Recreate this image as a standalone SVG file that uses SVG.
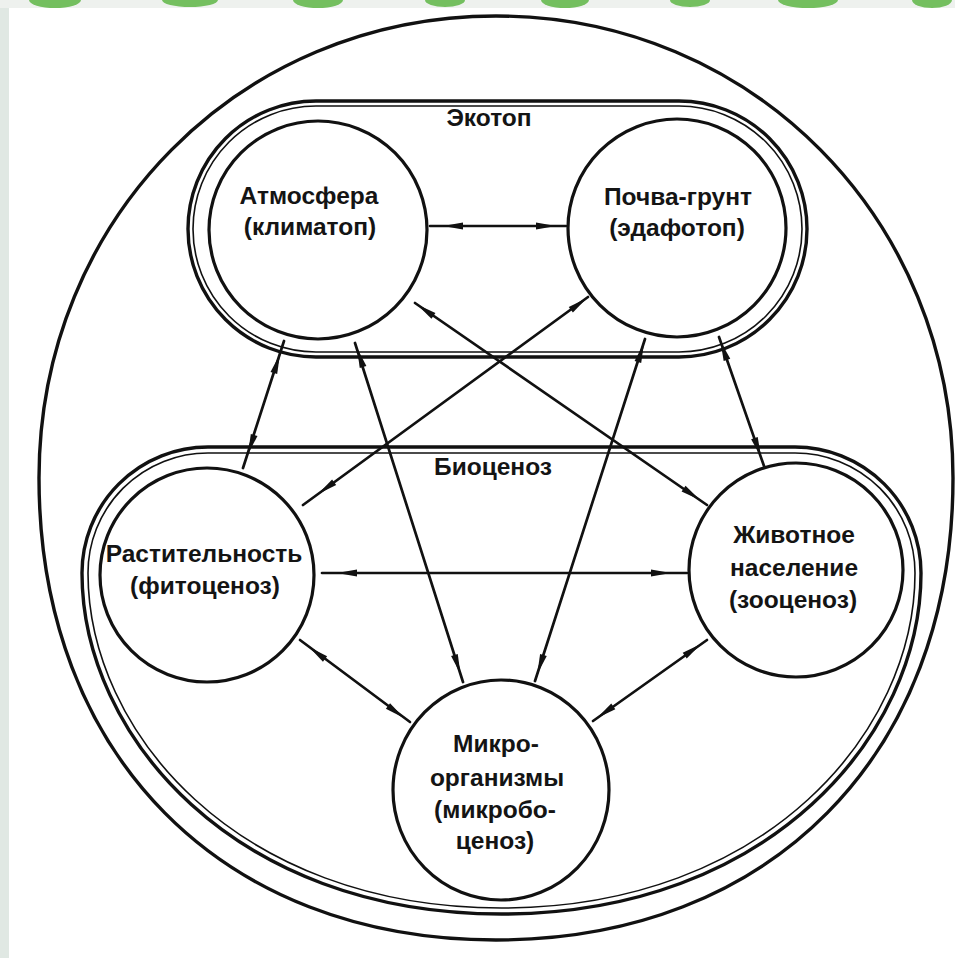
<svg xmlns="http://www.w3.org/2000/svg" xmlns:xlink="http://www.w3.org/1999/xlink" width="955" height="958" viewBox="0 0 955 958">
<style>
.frame{fill:none;stroke:#111;stroke-width:3.4}
.thin{fill:none;stroke:#111;stroke-width:1.6}
.node{fill:none;stroke:#111;stroke-width:3.2}
.lbl{font-family:"Liberation Sans",Arial,sans-serif;font-weight:bold;font-size:24.5px;fill:#141414;text-anchor:middle}
.con{stroke:#111;stroke-width:2.7;fill:none;stroke-linecap:round}
.ah{fill:#111}
</style>
<defs>
<path id="ah" d="M0,0 L-20,-3.5 L-20,3.5 Z"/>
</defs>
<rect x="0" y="0" width="955" height="958" fill="#ffffff"/>
<g id="slide-edge">
<rect x="0" y="0" width="9" height="958" fill="#e0e8e3"/>
<rect x="0" y="0" width="955" height="8" fill="#eef1ee"/>
<g fill="#74bf5f">
<ellipse cx="55" cy="0" rx="26" ry="8"/>
<ellipse cx="190" cy="0" rx="28" ry="7"/>
<ellipse cx="318" cy="0" rx="25" ry="8"/>
<ellipse cx="445" cy="0" rx="20" ry="7"/>
<ellipse cx="565" cy="0" rx="24" ry="8"/>
<ellipse cx="690" cy="0" rx="20" ry="7"/>
<ellipse cx="808" cy="0" rx="30" ry="8"/>
<ellipse cx="932" cy="0" rx="20" ry="8"/>
</g>
</g>
<g id="ecosystem">
<path class="frame" d="M953 478 C953 755 770 940 496 940 C222 940 39 755 39 478 C39 219 240 16 496 16 C752 16 953 219 953 478 Z"/>
</g>
<g id="ecotope">
<path class="frame" d="M316 101 L679 101 A128 128 0 0 1 679 357 L316 357 A128 128 0 0 1 316 101 Z"/>
<path class="thin" d="M316 106 L679 106 A123 123 0 0 1 679 352 L316 352 A123 123 0 0 1 316 106 Z"/>
<text class="lbl" x="489" y="126">Экотоп</text>
</g>
<g id="biocenosis">
<path class="frame" d="M208 447 L795 447 A126 126 0 0 1 921 573 C921 735 770 914 501.5 914 C233 914 82 735 82 573 A126 126 0 0 1 208 447 Z"/>
<path class="thin" d="M208 453 L795 453 A120 120 0 0 1 915 573 C915 731 767 908 501.5 908 C236 908 88 731 88 573 A120 120 0 0 1 208 453 Z"/>
<text class="lbl" x="493" y="475">Биоценоз</text>
</g>
<g id="atmosphere">
<circle class="node" cx="318" cy="230" r="109"/>
<text class="lbl" x="309" y="204">Атмосфера</text>
<text class="lbl" x="310" y="235">(климатоп)</text>
</g>
<g id="soil">
<circle class="node" cx="677" cy="228" r="109"/>
<text class="lbl" x="678" y="205">Почва-грунт</text>
<text class="lbl" x="677" y="236">(эдафотоп)</text>
</g>
<g id="vegetation">
<circle class="node" cx="207" cy="575" r="107"/>
<text class="lbl" x="204" y="562">Растительность</text>
<text class="lbl" x="205" y="594">(фитоценоз)</text>
</g>
<g id="animals">
<circle class="node" cx="796" cy="570" r="107"/>
<text class="lbl" x="794" y="543">Животное</text>
<text class="lbl" x="794" y="576">население</text>
<text class="lbl" x="793" y="608">(зооценоз)</text>
</g>
<g id="microorganisms">
<ellipse class="node" cx="501" cy="790" rx="108" ry="110"/>
<text class="lbl" x="496" y="752">Микро-</text>
<text class="lbl" x="497" y="786">организмы</text>
<text class="lbl" x="495" y="818">(микробо-</text>
<text class="lbl" x="495" y="849">ценоз)</text>
</g>
<g id="connectors">
<line class="con" x1="430" y1="226" x2="566" y2="226"/>
<line class="con" x1="284" y1="341" x2="243" y2="468"/>
<line class="con" x1="415" y1="303" x2="707" y2="505"/>
<line class="con" x1="588" y1="297" x2="303" y2="505"/>
<line class="con" x1="355" y1="343" x2="463" y2="682"/>
<line class="con" x1="645" y1="339" x2="535" y2="681"/>
<line class="con" x1="719" y1="337" x2="764" y2="466"/>
<line class="con" x1="322" y1="573" x2="687" y2="573"/>
<line class="con" x1="300" y1="640" x2="410" y2="722"/>
<line class="con" x1="707" y1="640" x2="593" y2="721"/>
<g class="ah">
<use xlink:href="#ah" transform="translate(443,226) rotate(180)"/>
<use xlink:href="#ah" transform="translate(556,226)"/>
<use xlink:href="#ah" transform="translate(280,354) rotate(-72.1)"/>
<use xlink:href="#ah" transform="translate(248,454) rotate(107.9)"/>
<use xlink:href="#ah" transform="translate(417,304.5) rotate(-145.3)"/>
<use xlink:href="#ah" transform="translate(700,500) rotate(34.7)"/>
<use xlink:href="#ah" transform="translate(587,298) rotate(-36.1)"/>
<use xlink:href="#ah" transform="translate(318,494) rotate(143.9)"/>
<use xlink:href="#ah" transform="translate(357,348) rotate(-107.7)"/>
<use xlink:href="#ah" transform="translate(460.5,674) rotate(72.3)"/>
<use xlink:href="#ah" transform="translate(644,343) rotate(-72.2)"/>
<use xlink:href="#ah" transform="translate(537.3,674) rotate(107.8)"/>
<use xlink:href="#ah" transform="translate(720.4,341) rotate(-109.2)"/>
<use xlink:href="#ah" transform="translate(761,457) rotate(70.8)"/>
<use xlink:href="#ah" transform="translate(337,573) rotate(180)"/>
<use xlink:href="#ah" transform="translate(671,573)"/>
<use xlink:href="#ah" transform="translate(309,647) rotate(-143.3)"/>
<use xlink:href="#ah" transform="translate(404,718) rotate(36.7)"/>
<use xlink:href="#ah" transform="translate(701,644) rotate(-35.4)"/>
<use xlink:href="#ah" transform="translate(597,718) rotate(144.6)"/>
</g>
</g>
</svg>
